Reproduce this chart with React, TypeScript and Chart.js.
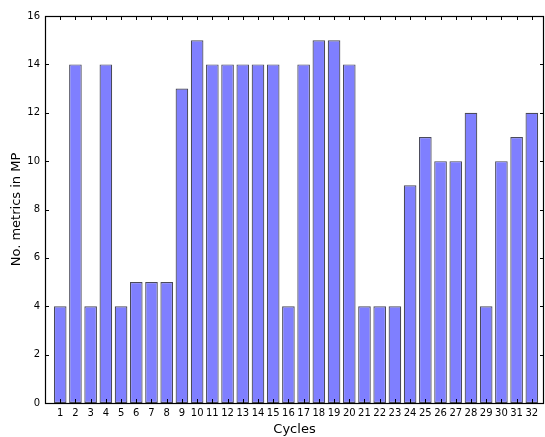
import React, { useEffect, useRef } from "react";
import { Chart, registerables } from "chart.js";

Chart.register(...registerables);

const cycles: number[] = [1, 2, 3, 4, 5, 6, 7, 8, 9, 10, 11, 12, 13, 14, 15, 16, 17, 18, 19, 20, 21, 22, 23, 24, 25, 26, 27, 28, 29, 30, 31, 32];
const metricsInMP: number[] = [4, 14, 4, 14, 4, 5, 5, 5, 13, 15, 14, 14, 14, 14, 14, 4, 14, 15, 15, 14, 4, 4, 4, 9, 11, 10, 10, 12, 4, 10, 11, 12];
const yTicks: number[] = [0, 2, 4, 6, 8, 10, 12, 14, 16];

const FONT = "'DejaVu Sans', sans-serif";

const framePlugin = {
  id: "frame",
  afterDraw(chart: any) {
    const { ctx, chartArea, scales } = chart;
    const { left, right, top, bottom } = chartArea;
    ctx.save();
    ctx.strokeStyle = "#000";
    ctx.lineWidth = 1;
    const L = 4;
    ctx.beginPath();
    for (const v of cycles) {
      const x = Math.round(scales.x.getPixelForValue(v)) + 0.5;
      ctx.moveTo(x, bottom);
      ctx.lineTo(x, bottom - L);
      ctx.moveTo(x, top);
      ctx.lineTo(x, top + L);
    }
    for (const v of yTicks) {
      const y = Math.round(scales.y.getPixelForValue(v)) + 0.5;
      ctx.moveTo(left, y);
      ctx.lineTo(left + L, y);
      ctx.moveTo(right, y);
      ctx.lineTo(right - L, y);
    }
    ctx.stroke();
    ctx.lineWidth = 1.2;
    ctx.strokeRect(Math.round(left) + 0.5, Math.round(top) + 0.5, Math.round(right - left) - 1, Math.round(bottom - top));
    ctx.restore();
  },
};

export default function App() {
  const ref = useRef<HTMLCanvasElement | null>(null);
  useEffect(() => {
    if (!ref.current) return;
    const chart = new Chart(ref.current, {
      type: "bar",
      data: {
        datasets: [
          {
            data: cycles.map((c, i) => ({ x: c, y: metricsInMP[i] })),
            backgroundColor: "#7f7fff",
            borderColor: "#4a4a5a",
            borderWidth: 1.2,
            borderSkipped: false,
            categoryPercentage: 1,
            barPercentage: 0.83,
          },
        ],
      },
      options: {
        animation: false,
        responsive: false,
        maintainAspectRatio: false,
        layout: { padding: { top: 16, right: 1, left: 0, bottom: 0 } },
        plugins: { legend: { display: false }, tooltip: { enabled: false } },
        scales: {
          x: {
            type: "linear",
            offset: false,
            min: 0,
            max: 32.8,
            afterBuildTicks: (scale: any) => {
              scale.ticks = cycles.map((v) => ({ value: v }));
            },
            afterFit: (scale: any) => {
              scale.height = 34;
            },
            grid: { display: false, drawTicks: false, offset: false },
            border: { display: false },
            ticks: {
              autoSkip: false,
              maxRotation: 0,
              padding: 4,
              color: "#000",
              font: { family: FONT, size: 10 },
              callback: (v: any) => String(v),
            },
            title: {
              display: true,
              text: "Cycles",
              color: "#000",
              font: { family: FONT, size: 13 },
              padding: { top: 0, bottom: 0 },
            },
          },
          y: {
            min: 0,
            max: 16,
            afterBuildTicks: (scale: any) => {
              scale.ticks = yTicks.map((v) => ({ value: v }));
            },
            afterFit: (scale: any) => {
              scale.width = 45;
            },
            grid: { display: false, drawTicks: false },
            border: { display: false },
            ticks: {
              padding: 5,
              color: "#000",
              font: { family: FONT, size: 10 },
            },
            title: {
              display: true,
              text: "No. metrics in MP",
              color: "#000",
              font: { family: FONT, size: 13 },
              padding: { top: 9, bottom: 0 },
            },
          },
        },
      },
      plugins: [framePlugin],
    });
    return () => chart.destroy();
  }, []);
  return (
    <div style={{ position: "fixed", left: 0, top: 0, width: 545, height: 437, background: "#fff" }}>
      <canvas ref={ref} width={545} height={437} style={{ display: "block" }} />
    </div>
  );
}
